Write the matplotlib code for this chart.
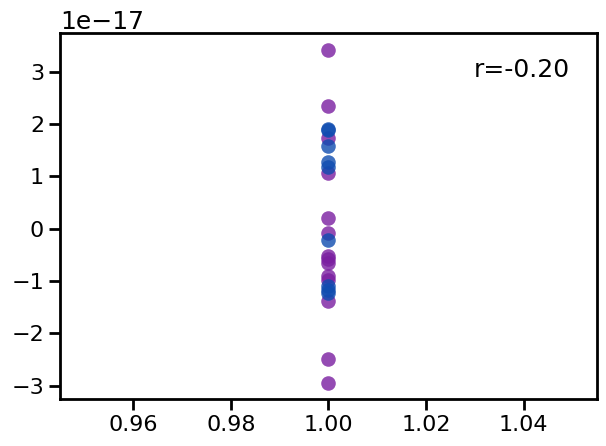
import matplotlib
matplotlib.use("Agg")
import matplotlib.pyplot as plt
import seaborn as sns
import numpy as np

sns.set_theme(context="talk", style="ticks")
plt.rcParams['font.family'] = ['DejaVu Sans']
for k in ['text.color', 'axes.labelcolor', 'xtick.color', 'ytick.color', 'axes.edgecolor']:
    plt.rcParams[k] = 'black'

purple_y = [3.42, 2.34, 1.73, 1.06, 0.20, -0.09, -0.52, -0.58, -0.66, -0.90, -0.98, -1.38, -2.49, -2.94]
blue_y = [1.91, 1.89, 1.58, 1.27, 1.18, -0.21, -1.10, -1.17, -1.22]
r_text = "r=-0.20"
scale = 1e-17

fig = plt.figure(figsize=(6.06, 4.46), dpi=100)
ax = fig.add_axes([0.099, 0.105, 0.886, 0.821])

ax.scatter(np.ones(len(purple_y)), np.array(purple_y) * scale, s=110,
           color="#7a1ea0", alpha=0.8, linewidths=0)
ax.scatter(np.ones(len(blue_y)), np.array(blue_y) * scale, s=110,
           color="#0f4cb0", alpha=0.8, linewidths=0)

ax.text(0.95, 0.9, r_text, transform=ax.transAxes, ha="right", va="center", fontsize=18)
for s in ax.spines.values():
    s.set_linewidth(2)
ax.tick_params(width=2, length=8, labelsize=16)
ax.yaxis.get_offset_text().set_fontsize(18)

fig.savefig("out.png", dpi=100)
